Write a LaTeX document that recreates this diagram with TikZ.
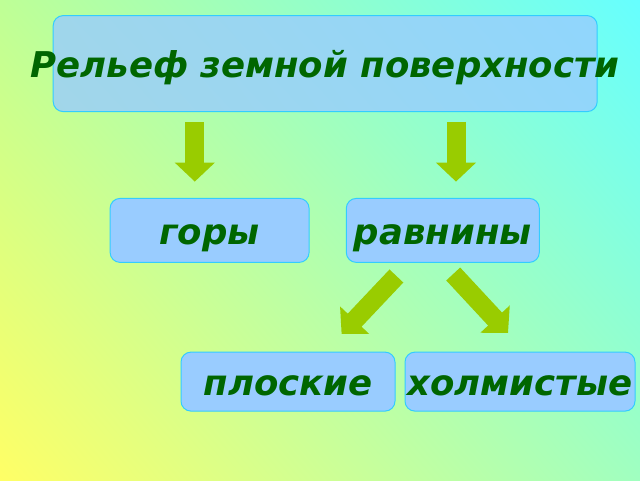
\documentclass[tikz,border=0pt]{standalone}
\usepackage{fontspec}
\setmainfont{DejaVu Sans}
\usetikzlibrary{arrows.meta,shadings}
\definecolor{boxblue}{HTML}{99CCFF}
\definecolor{boxline}{HTML}{33CCFF}
\definecolor{textgreen}{HTML}{006600}
\definecolor{arrowgreen}{HTML}{99CC00}
\definecolor{bgll}{HTML}{FFFF66}
\definecolor{bgur}{HTML}{66FFFF}
\definecolor{bgul}{HTML}{BEFF96}
\definecolor{bglr}{HTML}{A0FFC0}
\tikzset{
  box/.style={draw=boxline, line width=1pt, fill=boxblue, rounded corners=10pt,
    inner sep=0pt, text height=28pt, text depth=0pt, text=textgreen,
    font=\fontsize{35.5}{40}\selectfont\bfseries\itshape},
  fatarrow/.style={arrowgreen, line width=19pt, -{Triangle[width=39pt,length=19pt]}}
}
\begin{document}
\begin{tikzpicture}[x=40pt,y=40pt]
% background
\shade[lower left=bgll, upper right=bgur, upper left=bgul, lower right=bglr]
  (0,0) rectangle (16,12);
\useasboundingbox (0,0) rectangle (16,12);

% boxes
\node[box, fill opacity=0.8, text opacity=1, minimum width=544pt, minimum height=96pt] (relief) at (8.13,10.41)
  {\makebox[0pt]{Рельеф земной поверхности}};
\node[box, minimum width=199pt, minimum height=64pt] (gory) at (5.24,6.24) {горы};
\node[box, minimum width=193pt, minimum height=64pt] (ravniny) at (11.07,6.24) {равнины};
\node[box, minimum width=214pt, minimum height=59pt] (ploskie) at (7.2,2.46) {плоские};
\node[box, minimum width=230pt, minimum height=59pt] (holmy) at (13,2.46) {холмистые};

% arrows
\coordinate (a1) at (4.87,8.94);
\coordinate (b1) at (4.87,7.46);
\coordinate (a2) at (11.40,8.95);
\coordinate (b2) at (11.40,7.46);
\coordinate (a3) at (9.91,5.10);
\coordinate (b3) at (8.54,3.65);
\coordinate (a4) at (11.33,5.15);
\coordinate (b4) at (12.70,3.675);
\draw[fatarrow] (a1) -- (b1);
\draw[fatarrow] (a2) -- (b2);
\draw[fatarrow] (a3) -- (b3);
\draw[fatarrow] (a4) -- (b4);

\end{tikzpicture}
\end{document}
